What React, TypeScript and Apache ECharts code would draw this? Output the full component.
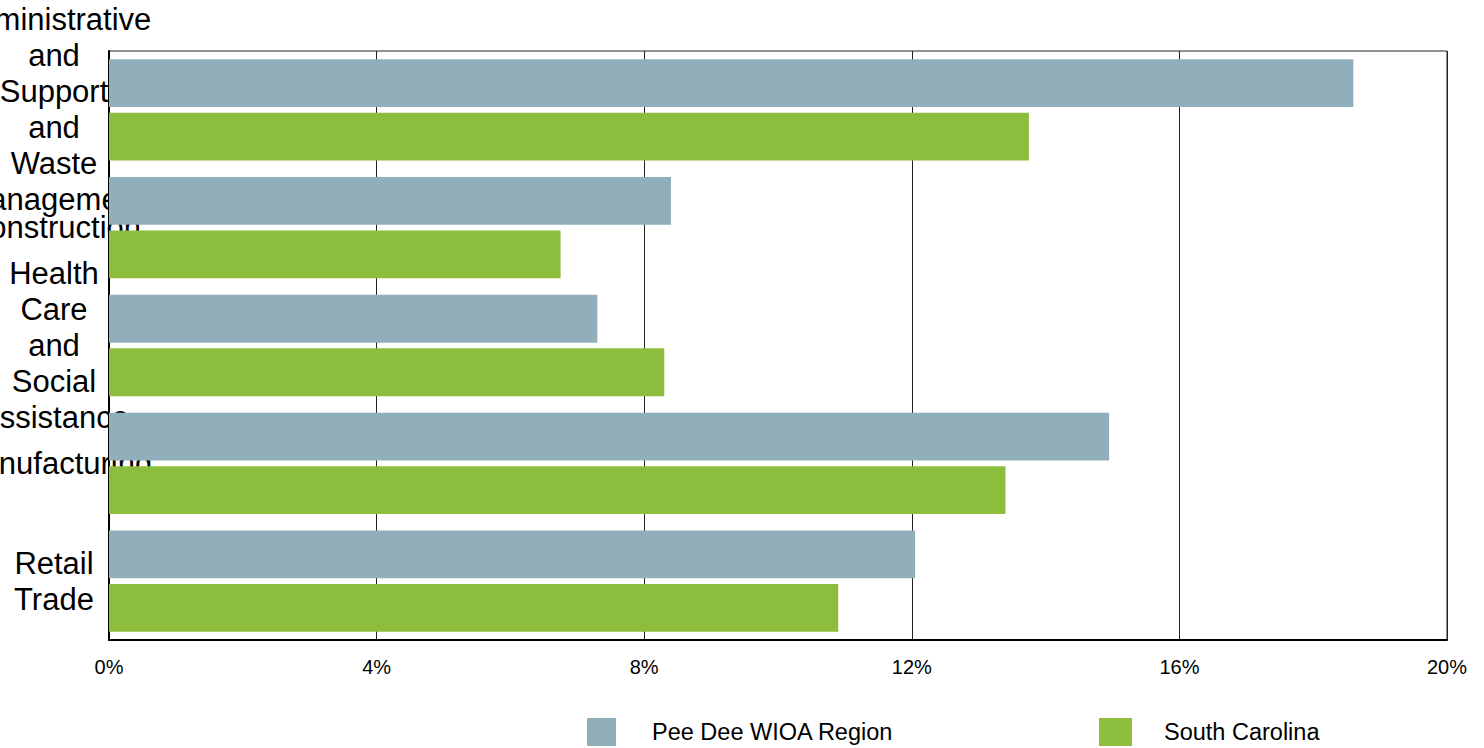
import React, { useEffect, useRef } from "react";
import * as echarts from "echarts";

const categories = [
  "Administrative and Support and Waste Management",
  "Construction",
  "Health Care and Social Assistance",
  "Manufacturing",
  "Retail Trade",
];
const peeDee = [18.6, 8.4, 7.3, 14.95, 12.05];
const southCarolina = [13.75, 6.75, 8.3, 13.4, 10.9];
const xTicks = { min: 0, max: 20, interval: 4 };
const seriesNames = ["Pee Dee WIOA Region", "South Carolina"];

export default function App() {
  const ref = useRef<HTMLDivElement>(null);
  useEffect(() => {
    if (!ref.current) return;
    const chart = echarts.init(ref.current, undefined, { renderer: "svg" });
    const font = "Liberation Sans, Arial, sans-serif";
    chart.setOption({
      animation: false,
      textStyle: { fontFamily: font },
      grid: {
        left: 109,
        right: 37,
        top: 51,
        bottom: 108,
        show: true,
        borderColor: "#222",
        borderWidth: 1,
        containLabel: false,
        outerBoundsMode: "none",
      },
      legend: [
        {
          data: [seriesNames[0]],
          left: 587,
          top: 718,
          padding: 0,
          itemWidth: 29,
          itemHeight: 28,
          icon: "rect",
          textStyle: {
            fontSize: 23.5,
            color: "#000",
            fontFamily: font,
            padding: [3, 0, 0, 31],
          },
        },
        {
          data: [seriesNames[1]],
          left: 1099,
          top: 718,
          padding: 0,
          itemWidth: 33,
          itemHeight: 28,
          icon: "rect",
          textStyle: {
            fontSize: 23.5,
            color: "#000",
            fontFamily: font,
            padding: [3, 0, 0, 27],
          },
        },
      ],
      xAxis: {
        type: "value",
        min: xTicks.min,
        max: xTicks.max,
        interval: xTicks.interval,
        axisLine: { show: true, lineStyle: { color: "#000", width: 2 } },
        axisTick: { show: false },
        splitLine: { show: true, lineStyle: { color: "#222", width: 1 } },
        axisLabel: {
          formatter: "{value}%",
          fontSize: 20,
          color: "#000",
          margin: 17,
          fontFamily: font,
        },
      },
      yAxis: {
        type: "category",
        data: categories,
        inverse: true,
        axisLine: { show: true, lineStyle: { color: "#000", width: 2 } },
        axisTick: { show: false },
        axisLabel: {
          interval: 0,
          fontSize: 31,
          lineHeight: 36,
          color: "#000",
          align: "center",
          margin: 55,
          fontFamily: font,
          formatter: (v: string) => v.split(" ").join("\n"),
        },
      },
      series: [
        {
          name: seriesNames[0],
          type: "bar",
          data: peeDee,
          barCategoryGap: "14%",
          barGap: "12%",
          itemStyle: { color: "#90AFBA" },
        },
        {
          name: seriesNames[1],
          type: "bar",
          data: southCarolina,
          barCategoryGap: "14%",
          barGap: "12%",
          itemStyle: { color: "#8DBD3C" },
        },
      ],
    });
    return () => chart.dispose();
  }, []);
  return (
    <div
      ref={ref}
      style={{ position: "absolute", left: 0, top: 0, width: 1484, height: 748 }}
    />
  );
}
